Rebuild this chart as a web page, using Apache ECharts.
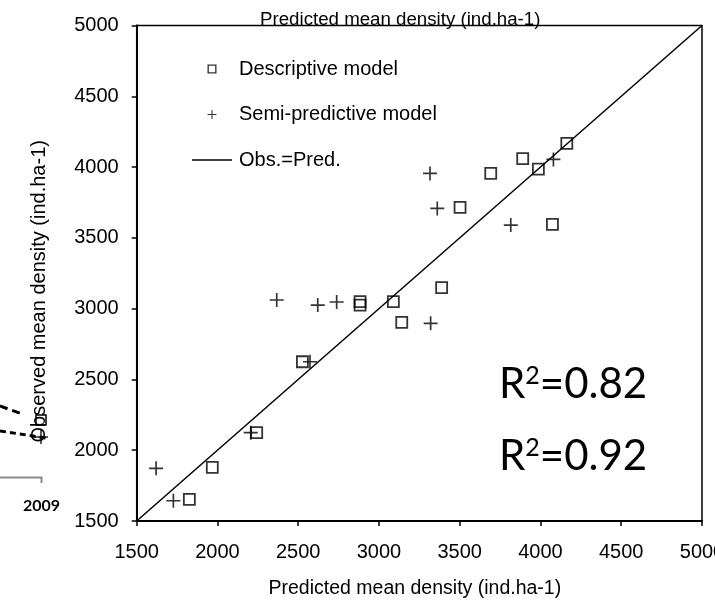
<!DOCTYPE html>
<html>
<head>
<meta charset="utf-8">
<title>Observed vs predicted mean density</title>
<script src="https://cdn.jsdelivr.net/npm/echarts@6/dist/echarts.min.js"></script>
<style>
  html, body { margin: 0; padding: 0; background: #fff; }
  #chart { width: 715px; height: 600px; }
</style>
</head>
<body>
<div id="chart"></div>
<script>
// Predicted / observed mean density (ind.ha-1) for each model
const descPred = [1826, 1968, 2243, 2526, 2883, 2883, 3089, 3141, 3388, 3502, 3692, 3890, 3987, 4074, 4163];
const descObs  = [1653, 1879, 2124, 2625, 3050, 3025, 3049, 2903, 3148, 3715, 3955, 4059, 3986, 3595, 4167];
const semiPred = [1620, 1727, 2206, 2367, 2573, 2621, 2738, 3316, 3320, 3361, 3816, 4080];
const semiObs  = [1872, 1643, 2124, 3061, 2625, 3025, 3047, 3955, 2896, 3708, 3590, 4054];
// 1:1 reference line end points
const identity = [1500, 5000];
const r2Values = ['0.82', '0.92'];
const seriesNames = ['Descriptive model', 'Semi-predictive model', 'Obs.=Pred.'];
const axisTitle = 'Predicted mean density (ind.ha-1)';
const yTitle = 'Observed mean density (ind.ha-1)';

const zip = (a, b) => a.map((v, i) => [v, b[i]]);
const FONT = 'Liberation Sans, Arial, sans-serif';
const PLUS = 'path://M8.8,0H11.2V8.8H20V11.2H11.2V20H8.8V11.2H0V8.8H8.8Z';
const SQUARE = 'path://M0,0H20V20H0ZM3,3V17H17V3Z';
const DASH = 'path://M0,0H40V1.5H0Z';

const chart = echarts.init(document.getElementById('chart'), null, { renderer: 'canvas' });

const axisCommon = {
  type: 'value',
  min: 1500,
  max: 5000,
  interval: 500,
  splitLine: { show: false },
  axisLine: { show: true, lineStyle: { color: '#000', width: 2 } },
  axisTick: { show: true, inside: false, length: 5, lineStyle: { color: '#000', width: 1.5 } },
  axisLabel: { color: '#000', fontFamily: FONT, fontSize: 20, formatter: v => String(v) },
  nameLocation: 'middle',
  nameTextStyle: { color: '#000', fontFamily: FONT, fontSize: 19.5 }
};

const r2Rich = {
  r: { fontFamily: 'Lato, sans-serif', fontSize: 42, fill: '#000' },
  s: { fontFamily: 'Lato, sans-serif', fontSize: 25, fill: '#000', verticalAlign: 'top', padding: [0, 0, 15, 0] }
};

chart.setOption({
  animation: false,
  backgroundColor: '#fff',
  title: {
    text: axisTitle,
    left: 255,
    top: 5,
    textStyle: { color: '#000', fontFamily: FONT, fontSize: 18.7, fontWeight: 'normal' }
  },
  grid: {
    left: 136.7,
    right: 13,
    top: 25.5,
    bottom: 79,
    outerBoundsMode: 'none',
    containLabel: false,
    show: true,
    borderColor: '#000',
    borderWidth: 1.5,
    backgroundColor: 'transparent'
  },
  legend: {
    orient: 'vertical',
    left: 187,
    top: 54,
    itemWidth: 40,
    itemHeight: 9,
    itemGap: 25.5,
    textStyle: { color: '#000', fontFamily: FONT, fontSize: 20, padding: [0, 0, 0, 2] },
    data: [
      { name: seriesNames[0], icon: SQUARE, itemStyle: { color: '#000', borderWidth: 0 } },
      { name: seriesNames[1], icon: PLUS, itemStyle: { color: '#000', borderWidth: 0 } },
      { name: seriesNames[2], icon: DASH, itemStyle: { color: '#000', borderWidth: 0 } }
    ]
  },
  xAxis: Object.assign({}, axisCommon, {
    name: axisTitle,
    nameGap: 58,
    nameTextStyle: Object.assign({}, axisCommon.nameTextStyle, { padding: [0, 9, 0, 0] }),
    axisLabel: Object.assign({}, axisCommon.axisLabel, { margin: 21 })
  }),
  yAxis: Object.assign({}, axisCommon, {
    name: yTitle,
    nameGap: 87,
    nameTextStyle: Object.assign({}, axisCommon.nameTextStyle, { fontSize: 20, padding: [0, 36, 0, 0] }),
    axisLabel: Object.assign({}, axisCommon.axisLabel, { margin: 18 })
  }),
  series: [
    {
      name: seriesNames[2],
      type: 'line',
      data: [[identity[0], identity[0]], [identity[1], identity[1]]],
      symbol: 'none',
      lineStyle: { color: '#000', width: 1.5 },
      itemStyle: { color: '#000' },
      z: 2
    },
    {
      name: seriesNames[0],
      type: 'scatter',
      data: zip(descPred, descObs),
      symbol: 'rect',
      symbolSize: 11,
      itemStyle: { color: 'transparent', borderColor: '#000', borderWidth: 1.8 },
      z: 3
    },
    {
      name: seriesNames[1],
      type: 'scatter',
      data: zip(semiPred, semiObs),
      symbol: PLUS,
      symbolSize: 14,
      itemStyle: { color: '#000' },
      z: 3
    }
  ],
  graphic: [
    // R² annotations
    {
      type: 'text', left: 499, top: 363, z: 10,
      style: { text: '{r|R}{s|2}{r|=' + r2Values[0] + '}', rich: r2Rich }
    },
    {
      type: 'text', left: 499, top: 435, z: 10,
      style: { text: '{r|R}{s|2}{r|=' + r2Values[1] + '}', rich: r2Rich }
    },
    // fragments of the neighbouring panel on the left edge
    {
      type: 'polyline', z: 1,
      shape: { points: [[0, 406], [22, 414]] },
      style: { stroke: '#000', lineWidth: 3, lineDash: [8, 5], fill: null }
    },
    {
      type: 'polyline', z: 1,
      shape: { points: [[0, 431], [20, 434], [46, 438]] },
      style: { stroke: '#000', lineWidth: 3, lineDash: [6, 4], fill: null }
    },
    {
      type: 'rect', z: 1,
      shape: { x: 36, y: 415, width: 10, height: 10 },
      style: { stroke: '#000', lineWidth: 1.5, fill: null }
    },
    {
      type: 'polyline', z: 1,
      shape: { points: [[34, 437], [48, 437]] },
      style: { stroke: '#000', lineWidth: 1.3, fill: null }
    },
    {
      type: 'polyline', z: 1,
      shape: { points: [[41, 430], [41, 444]] },
      style: { stroke: '#000', lineWidth: 1.3, fill: null }
    },
    {
      type: 'polyline', z: 1,
      shape: { points: [[0, 477.5], [41.5, 477.5], [41.5, 483]] },
      style: { stroke: '#8a8a8a', lineWidth: 2, fill: null }
    },
    {
      type: 'text', left: 23, top: 498, z: 1,
      style: { text: '2009', fontFamily: 'Lato, sans-serif', fontWeight: 'bold', fontSize: 16, fill: '#000' }
    }
  ]
});
</script>
</body>
</html>
